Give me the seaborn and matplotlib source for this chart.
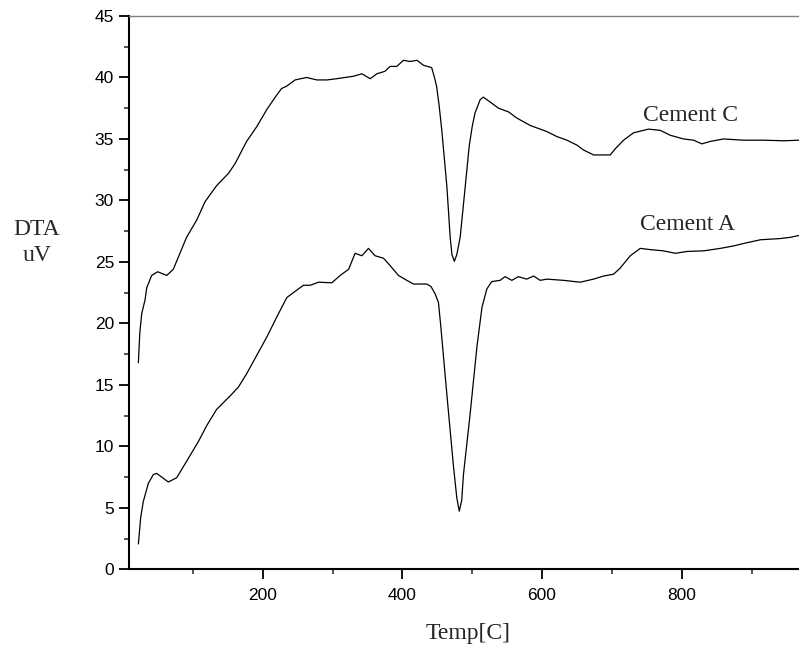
import matplotlib
matplotlib.use("Agg")
import matplotlib.pyplot as plt
import seaborn as sns
import pandas as pd
from matplotlib.ticker import MultipleLocator, FixedLocator

# ---- data ----
temp_c = [22, 24, 26.8, 31.5, 34, 41, 49.6, 62.6, 72, 91, 105.5, 117.5, 134, 151, 160.5,
          177, 191.5, 206, 218, 227, 234.5, 246.4, 263, 277.5, 292, 306, 330, 342,
          354, 363.5, 375, 382.5, 392, 401.6, 411, 421, 430, 442, 446, 449, 452.5,
          456.5, 460, 463.8, 468.5, 471, 474.5, 478, 482.8, 490, 495.7, 500, 504, 511.5,
          516, 525.8, 537.7, 552, 564, 583, 607, 621, 635.7, 650, 659.5, 673.8,
          697.7, 704.9, 716.8, 731, 752.6, 769.3, 783.7, 802.7, 817, 829, 841, 860,
          888.7, 917, 946, 968]
dta_c = [16.8, 19.2, 20.8, 21.9, 22.9, 23.9, 24.2, 23.9, 24.4, 27.0, 28.4, 29.9, 31.2, 32.2,
         33.0, 34.8, 36.0, 37.4, 38.4, 39.1, 39.3, 39.8, 40.0, 39.8, 39.8, 39.9, 40.1,
         40.3, 39.9, 40.3, 40.5, 40.9, 40.9, 41.4, 41.3, 41.4, 41.0, 40.8, 40.0, 39.3,
         37.8, 35.7, 33.5, 31.1, 27.0, 25.6, 25.05, 25.6, 27.0, 31.1, 34.4, 36.0, 37.1,
         38.2, 38.4, 38.0, 37.5, 37.2, 36.7, 36.1, 35.6, 35.2, 34.9, 34.5, 34.1,
         33.7, 33.7, 34.2, 34.9, 35.5, 35.8, 35.7, 35.3, 35.0, 34.9, 34.6, 34.8,
         35.0, 34.9, 34.9, 34.85, 34.9]

temp_a = [22, 25.3, 29, 36.3, 43.4, 48.2, 55.4, 64.9, 76.9, 91.2, 108, 120, 134, 153.3,
          165, 177, 191.5, 206, 220, 234.5, 244, 258.3, 268, 280, 299, 311, 323,
          332.4, 342, 351.5, 361, 373, 382.5, 394.4, 406.4, 416, 435, 441, 447,
          451.7, 455, 463.7, 473, 478, 481.5, 485, 487.5, 497, 506.7, 514, 521, 528,
          540, 547, 556.8, 566, 578, 588, 597.4, 607, 630.8, 654.7, 673.8, 688,
          702.4, 712, 726.4, 740.7, 755, 774, 790.8, 807.6, 831.4, 855.3, 874.4,
          888.7, 912.6, 941.3, 955.6, 968]
dta_a = [2.06, 4.2, 5.5, 7.0, 7.7, 7.8, 7.5, 7.1, 7.45, 8.8, 10.4, 11.7, 13.0, 14.1,
         14.8, 15.9, 17.4, 18.9, 20.5, 22.1, 22.5, 23.1, 23.1, 23.35, 23.3, 23.9, 24.4,
         25.7, 25.5, 26.1, 25.5, 25.3, 24.7, 23.9, 23.5, 23.2, 23.2, 23.0, 22.4,
         21.7, 19.8, 14.25, 8.5, 5.8, 4.73, 5.6, 7.7, 12.6, 18.05, 21.3, 22.8, 23.4,
         23.5, 23.8, 23.5, 23.8, 23.6, 23.85, 23.5, 23.6, 23.5, 23.35, 23.6, 23.85,
         24.0, 24.5, 25.5, 26.1, 26.0, 25.9, 25.7, 25.85, 25.9, 26.1, 26.3,
         26.5, 26.8, 26.9, 27.0, 27.15]

series_names = ["Cement C", "Cement A"]
x_ticks = [200, 400, 600, 800]
y_ticks = [0, 5, 10, 15, 20, 25, 30, 35, 40, 45]

df = pd.concat([
    pd.DataFrame({"Temp": temp_c, "DTA": dta_c, "series": series_names[0]}),
    pd.DataFrame({"Temp": temp_a, "DTA": dta_a, "series": series_names[1]}),
], ignore_index=True)

sns.set_style("ticks")
plt.rcParams["font.family"] = ["Liberation Sans", "DejaVu Sans"]

fig = plt.figure(figsize=(7.99, 6.55), dpi=100)
ax = fig.add_axes([129.3 / 799, (655 - 569.3) / 655, (799 - 129.3) / 799, (569.3 - 16) / 655])

sns.lineplot(data=df, x="Temp", y="DTA", hue="series", units="series",
             estimator=None, sort=False, palette={n: "black" for n in series_names},
             linewidth=0.9, legend=False, ax=ax)

ax.set_xlim(9, 968)
ax.set_ylim(0, 45)
ax.xaxis.set_major_locator(FixedLocator(x_ticks))
ax.xaxis.set_minor_locator(MultipleLocator(100))
ax.yaxis.set_major_locator(FixedLocator(y_ticks))
ax.yaxis.set_minor_locator(MultipleLocator(2.5))
ax.set_xlabel("")
ax.set_ylabel("")

ax.tick_params(axis="both", which="major", direction="out", length=7.5, width=1.3,
               labelsize=12.5, colors="black")
ax.tick_params(axis="y", which="major", pad=3.5)
ax.tick_params(axis="x", which="major", pad=6)
ax.tick_params(axis="both", which="minor", direction="out", length=3.8, width=1.1)

for s in ["left", "bottom"]:
    ax.spines[s].set_linewidth(1.5)
    ax.spines[s].set_color("black")
ax.spines["top"].set_linewidth(1.0)
ax.spines["top"].set_color("#808080")
ax.spines["right"].set_visible(False)

serif = ["Liberation Serif", "DejaVu Serif"]
ax.text(745, 36.5, "Cement C", family=serif, fontsize=17, ha="left", va="baseline")
ax.text(740.7, 27.6, "Cement A", family=serif, fontsize=17, ha="left", va="baseline")

fig.text(37 / 799, 1 - 242.3 / 655, "DTA\nuV", family=serif, fontsize=17,
         ha="center", va="center", linespacing=1.3, multialignment="center")
fig.text(468 / 799, 1 - 634 / 655, "Temp[C]", family=serif, fontsize=17,
         ha="center", va="center")

fig.savefig("out.png", dpi=100)
